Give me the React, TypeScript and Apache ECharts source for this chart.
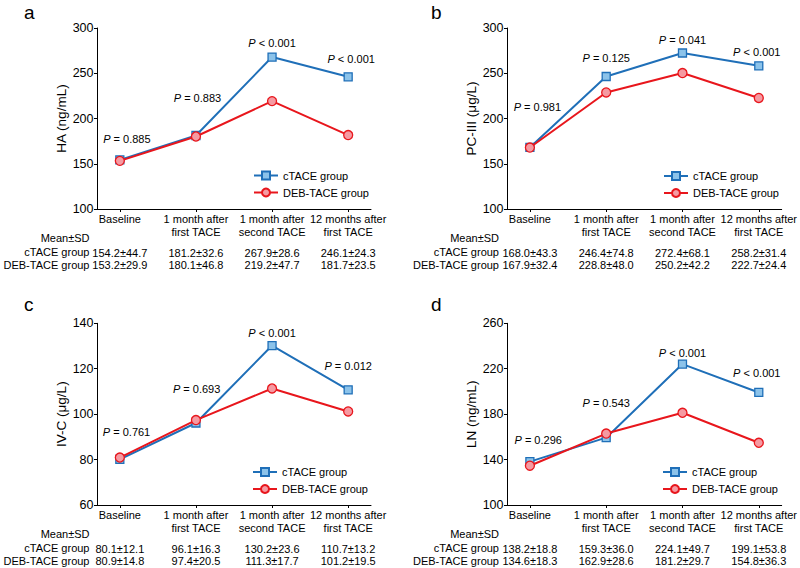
import React, { useEffect, useRef } from 'react';
import * as echarts from 'echarts';

const categories = ['Baseline', '1 month after\nfirst TACE', '1 month after\nsecond TACE', '12 months after\nfirst TACE'];
const seriesNames = ['cTACE group', 'DEB-TACE group'];

// Panel a: HA
const haCtace = [154.2, 181.2, 267.9, 246.1];
const haCtaceSd = [44.7, 32.6, 28.6, 24.3];
const haDeb = [153.2, 180.1, 219.2, 181.7];
const haDebSd = [29.9, 46.8, 47.7, 23.5];
const haP = ['= 0.885', '= 0.883', '< 0.001', '< 0.001'];

// Panel b: PC-III
const pcCtace = [168.0, 246.4, 272.4, 258.2];
const pcCtaceSd = [43.3, 74.8, 68.1, 31.4];
const pcDeb = [167.9, 228.8, 250.2, 222.7];
const pcDebSd = [32.4, 48.0, 42.2, 24.4];
const pcP = ['= 0.981', '= 0.125', '= 0.041', '< 0.001'];

// Panel c: IV-C
const ivCtace = [80.1, 96.1, 130.2, 110.7];
const ivCtaceSd = [12.1, 16.3, 23.6, 13.2];
const ivDeb = [80.9, 97.4, 111.3, 101.2];
const ivDebSd = [14.8, 20.5, 17.7, 19.5];
const ivP = ['= 0.761', '= 0.693', '< 0.001', '= 0.012'];

// Panel d: LN
const lnCtace = [138.2, 159.3, 224.1, 199.1];
const lnCtaceSd = [18.8, 36.0, 49.7, 53.8];
const lnDeb = [134.6, 162.9, 181.2, 154.8];
const lnDebSd = [18.3, 28.6, 29.7, 36.3];
const lnP = ['= 0.296', '= 0.543', '< 0.001', '< 0.001'];

const yTicksA = { min: 100, max: 300, interval: 50 };
const yTicksB = { min: 100, max: 300, interval: 50 };
const yTicksC = { min: 60, max: 140, interval: 20 };
const yTicksD = { min: 100, max: 260, interval: 40 };

const FONT = '"Liberation Sans", Arial, Helvetica, sans-serif';
const BLUE = '#1f6fb8';
const BLUE_FILL = '#8cc3ea';
const RED = '#e8161c';
const RED_FILL = '#f59aa2';

const panels = [
  {
    letter: 'a', letterX: 24, letterY: 3, name: 'HA (ng/mL)', y: yTicksA,
    c: haCtace, cSd: haCtaceSd, d: haDeb, dSd: haDebSd, p: haP,
    grid: { left: 97, top: 28, width: 274, height: 181 },
    legend: { left: 253, top: 169.5 }, rowX: 89.5,
    offsets: [[7, -9.5], [1.5, -26], [0, -2.5], [3, -7]],
  },
  {
    letter: 'b', letterX: 431, letterY: 3, name: 'PC-III (μg/L)', y: yTicksB,
    c: pcCtace, cSd: pcCtaceSd, d: pcDeb, dSd: pcDebSd, p: pcP,
    grid: { left: 507, top: 28, width: 276, height: 181 },
    legend: { left: 663, top: 170 }, rowX: 499,
    offsets: [[7.5, -29], [0, -7], [0, -2], [-2, -3]],
  },
  {
    letter: 'c', letterX: 24, letterY: 295, name: 'IV-C (μg/L)', y: yTicksC,
    c: ivCtace, cSd: ivCtaceSd, d: ivDeb, dSd: ivDebSd, p: ivP,
    grid: { left: 97, top: 323.3, width: 274, height: 181.7 },
    legend: { left: 252, top: 466 }, rowX: 89.5,
    offsets: [[6.7, -16], [0.7, -23], [0, -1], [0, -13]],
  },
  {
    letter: 'd', letterX: 431, letterY: 295, name: 'LN (ng/mL)', y: yTicksD,
    c: lnCtace, cSd: lnCtaceSd, d: lnDeb, dSd: lnDebSd, p: lnP,
    grid: { left: 507, top: 323.3, width: 276, height: 181.7 },
    legend: { left: 662, top: 466 }, rowX: 499,
    offsets: [[8.3, -10.4], [0, -24], [0, 0], [-2, -8]],
  },
];

const fmt = (m: number, s: number) => `${m.toFixed(1)}±${s.toFixed(1)}`;

function buildOption() {
  const grid: any[] = [];
  const xAxis: any[] = [];
  const yAxis: any[] = [];
  const series: any[] = [];
  const legend: any[] = [];
  const graphic: any[] = [];

  panels.forEach((pn, gi) => {
    grid.push({ ...pn.grid, containLabel: false });
    xAxis.push({
      type: 'value',
      gridIndex: gi,
      min: -0.3,
      max: 3.3,
      splitLine: { show: false },
      axisLine: { show: true, onZero: false, lineStyle: { color: '#000', width: 1 } },
      axisTick: { show: true, customValues: [0, 1, 2, 3], length: 3, lineStyle: { color: '#000' } },
      axisLabel: {
        show: true,
        customValues: [0, 1, 2, 3],
        margin: 4.3,
        color: '#000',
        fontFamily: FONT,
        formatter: (v: number) => {
          const i = Math.round(v);
          const lines = categories[i].split('\n');
          const l2 = lines[1] ?? ' ';
          return `{c|${lines[0]}}\n{c|${l2}}\n{g| }\n{v|${fmt(pn.c[i], pn.cSd[i])}}\n{v|${fmt(pn.d[i], pn.dSd[i])}}`;
        },
        rich: {
          c: { fontSize: 11, lineHeight: 12.3, fontFamily: FONT, color: '#000' },
          g: { fontSize: 4, lineHeight: 8.5, fontFamily: FONT },
          v: { fontSize: 11, lineHeight: 12.5, fontFamily: FONT, color: '#000' },
        },
      },
    });
    yAxis.push({
      type: 'value',
      gridIndex: gi,
      min: pn.y.min,
      max: pn.y.max,
      interval: pn.y.interval,
      name: pn.name,
      nameLocation: 'middle',
      nameGap: 27,
      nameTextStyle: { fontSize: 13.5, color: '#000', fontFamily: FONT },
      splitLine: { show: false },
      axisLine: { show: true, onZero: false, lineStyle: { color: '#000', width: 1 } },
      axisTick: { show: true, length: 3, lineStyle: { color: '#000' } },
      axisLabel: { margin: 3.5, fontSize: 12.5, color: '#000', fontFamily: FONT },
    });
    series.push({
      type: 'line',
      name: seriesNames[0],
      xAxisIndex: gi,
      yAxisIndex: gi,
      symbol: 'rect',
      symbolSize: 8,
      lineStyle: { color: BLUE, width: 2 },
      itemStyle: { color: BLUE_FILL, borderColor: BLUE, borderWidth: 1.3 },
      data: pn.c.map((v, i) => ({
        value: [i, v],
        label: {
          show: true,
          position: 'top',
          distance: 0,
          offset: pn.offsets[i],
          formatter: () => `{i|P} ${pn.p[i]}`,
          fontSize: 11,
          lineHeight: 13,
          color: '#000',
          fontFamily: FONT,
          rich: {
            i: { fontStyle: 'italic', fontSize: 11, lineHeight: 13, color: '#000', fontFamily: FONT },
          },
        },
      })),
      z: 2,
    });
    series.push({
      type: 'line',
      name: seriesNames[1],
      xAxisIndex: gi,
      yAxisIndex: gi,
      symbol: 'circle',
      symbolSize: 9,
      lineStyle: { color: RED, width: 2 },
      itemStyle: { color: RED_FILL, borderColor: RED, borderWidth: 1.3 },
      data: pn.d.map((v, i) => [i, v]),
      z: 3,
    });
    legend.push({
      data: seriesNames,
      orient: 'vertical',
      left: pn.legend.left,
      top: pn.legend.top,
      padding: 0,
      itemWidth: 24,
      itemHeight: 10,
      itemGap: 5,
      selectedMode: false,
      textStyle: { fontSize: 11, lineHeight: 12, color: '#000', fontFamily: FONT },
    });
    const axisY = pn.grid.top + pn.grid.height;
    graphic.push({
      type: 'text',
      x: pn.letterX,
      y: pn.letterY,
      style: { text: pn.letter, font: `19px ${FONT}`, fill: '#000', textVerticalAlign: 'top' },
    });
    const rows = ['Mean±SD', seriesNames[0], seriesNames[1]];
    const rowDy = [28.5, 43.3, 55.6];
    rows.forEach((t, ri) => {
      graphic.push({
        type: 'text',
        x: pn.rowX,
        y: axisY + rowDy[ri],
        style: { text: t, font: `11px ${FONT}`, fill: '#000', textAlign: 'right', textVerticalAlign: 'middle' },
      });
    });
  });

  return {
    animation: false,
    backgroundColor: '#fff',
    textStyle: { fontFamily: FONT },
    grid,
    xAxis,
    yAxis,
    series,
    legend,
    graphic,
  };
}

export default function App() {
  const ref = useRef<HTMLDivElement>(null);
  useEffect(() => {
    const chart = echarts.init(ref.current!, null, { renderer: 'svg' });
    chart.setOption(buildOption() as any);
    return () => chart.dispose();
  }, []);
  return <div ref={ref} style={{ position: 'fixed', left: 0, top: 0, width: 800, height: 568 }} />;
}
